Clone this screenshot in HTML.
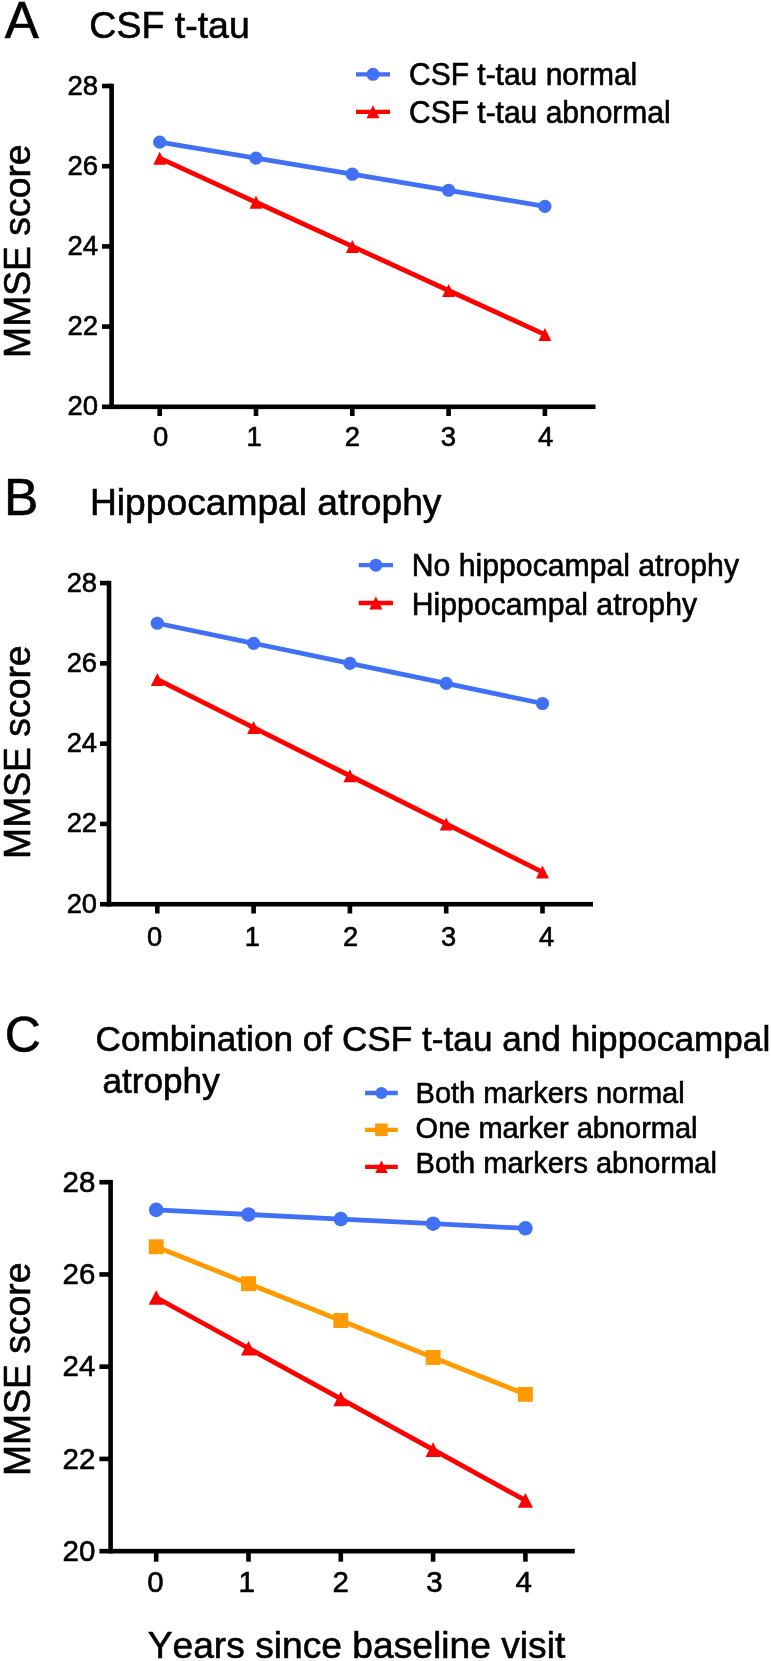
<!DOCTYPE html>
<html><head><meta charset="utf-8"><title>MMSE score trajectories</title>
<style>
html,body{margin:0;padding:0;background:#fff;}
body{width:771px;height:1661px;overflow:hidden;}
svg{display:block;will-change:transform;}
text{font-family:"Liberation Sans",sans-serif;font-kerning:none;fill:#000;stroke:#000;stroke-width:0.6px;}
</style></head>
<body>
<svg width="771" height="1661" viewBox="0 0 771 1661">
<rect width="771" height="1661" fill="#fff"/>
<text transform="translate(4.80,38.10) scale(1,1.0)" font-size="51" text-anchor="start" >A</text>
<text transform="translate(89.30,37.80) scale(1,1.0)" font-size="37.5" text-anchor="start" >CSF t-tau</text>
<text transform="translate(4.00,515.10) scale(1,1.0)" font-size="51.5" text-anchor="start" >B</text>
<text transform="translate(90.00,514.90) scale(1,1.0)" font-size="37.2" text-anchor="start" >Hippocampal atrophy</text>
<text transform="translate(4.80,1051.80) scale(1,1.0)" font-size="50" text-anchor="start" >C</text>
<text transform="translate(95.50,1051.40) scale(1,1.01)" font-size="35.2" text-anchor="start" >Combination of CSF t-tau and hippocampal</text>
<text transform="translate(102.40,1093.00) scale(1,1.01)" font-size="35.2" text-anchor="start" >atrophy</text>
<text transform="translate(147.70,1657.60) scale(1,1.0)" font-size="37.2" text-anchor="start" >Years since baseline visit</text>
<rect x="109.30" y="83.70" width="4.6" height="325.40" fill="#000"/>
<rect x="102.00" y="404.50" width="493.50" height="4.6" fill="#000"/>
<rect x="102.00" y="83.70" width="9.60" height="4.6" fill="#000"/>
<rect x="102.00" y="163.90" width="9.60" height="4.6" fill="#000"/>
<rect x="102.00" y="244.10" width="9.60" height="4.6" fill="#000"/>
<rect x="102.00" y="324.30" width="9.60" height="4.6" fill="#000"/>
<rect x="157.40" y="406.80" width="4.6" height="9.20" fill="#000"/>
<rect x="253.70" y="406.80" width="4.6" height="9.20" fill="#000"/>
<rect x="350.00" y="406.80" width="4.6" height="9.20" fill="#000"/>
<rect x="446.30" y="406.80" width="4.6" height="9.20" fill="#000"/>
<rect x="542.60" y="406.80" width="4.6" height="9.20" fill="#000"/>
<text transform="translate(98.00,94.50) scale(1,1.03)" font-size="27.5" text-anchor="end" >28</text>
<text transform="translate(98.00,174.70) scale(1,1.03)" font-size="27.5" text-anchor="end" >26</text>
<text transform="translate(98.00,254.90) scale(1,1.03)" font-size="27.5" text-anchor="end" >24</text>
<text transform="translate(98.00,335.10) scale(1,1.03)" font-size="27.5" text-anchor="end" >22</text>
<text transform="translate(98.00,415.30) scale(1,1.03)" font-size="27.5" text-anchor="end" >20</text>
<text transform="translate(160.60,446.40) scale(1,1.03)" font-size="27.5" text-anchor="middle" >0</text>
<text transform="translate(254.27,446.40) scale(1,1.03)" font-size="27.5" text-anchor="middle" >1</text>
<text transform="translate(352.40,446.40) scale(1,1.03)" font-size="27.5" text-anchor="middle" >2</text>
<text transform="translate(448.40,446.40) scale(1,1.03)" font-size="27.5" text-anchor="middle" >3</text>
<text transform="translate(545.70,446.40) scale(1,1.03)" font-size="27.5" text-anchor="middle" >4</text>
<polyline points="159.70,142.14 256.00,158.18 352.30,174.22 448.60,190.26 544.90,206.30" fill="none" stroke="#4071f5" stroke-width="4.8" stroke-linejoin="miter"/>
<circle cx="159.70" cy="142.14" r="6.6" fill="#4071f5"/>
<circle cx="256.00" cy="158.18" r="6.6" fill="#4071f5"/>
<circle cx="352.30" cy="174.22" r="6.6" fill="#4071f5"/>
<circle cx="448.60" cy="190.26" r="6.6" fill="#4071f5"/>
<circle cx="544.90" cy="206.30" r="6.6" fill="#4071f5"/>
<polyline points="159.70,158.18 256.00,202.29 352.30,246.40 448.60,290.51 544.90,334.62" fill="none" stroke="#ff0000" stroke-width="4.8" stroke-linejoin="miter"/>
<polygon points="159.70,151.68 166.15,164.68 153.25,164.68" fill="#ff0000"/>
<polygon points="256.00,195.79 262.45,208.79 249.55,208.79" fill="#ff0000"/>
<polygon points="352.30,239.90 358.75,252.90 345.85,252.90" fill="#ff0000"/>
<polygon points="448.60,284.01 455.05,297.01 442.15,297.01" fill="#ff0000"/>
<polygon points="544.90,328.12 551.35,341.12 538.45,341.12" fill="#ff0000"/>
<line x1="356.00" y1="74.35" x2="390.00" y2="74.35" stroke="#4071f5" stroke-width="4.3"/>
<circle cx="373.00" cy="74.35" r="6.5" fill="#4071f5"/>
<text transform="translate(409.00,85.20) scale(1,1.03)" font-size="30" text-anchor="start" >CSF t-tau normal</text>
<line x1="356.00" y1="111.80" x2="390.00" y2="111.80" stroke="#ff0000" stroke-width="4.3"/>
<polygon points="373.00,105.30 379.50,118.30 366.50,118.30" fill="#ff0000"/>
<text transform="translate(409.00,123.00) scale(1,1.03)" font-size="30" text-anchor="start" >CSF t-tau abnormal</text>
<text transform="translate(30.10,357.90) rotate(-90)" font-size="37.3">MMSE score</text>
<rect x="106.70" y="580.80" width="4.6" height="325.72" fill="#000"/>
<rect x="100.00" y="901.92" width="493.00" height="4.6" fill="#000"/>
<rect x="100.00" y="580.80" width="9.00" height="4.6" fill="#000"/>
<rect x="100.00" y="661.08" width="9.00" height="4.6" fill="#000"/>
<rect x="100.00" y="741.36" width="9.00" height="4.6" fill="#000"/>
<rect x="100.00" y="821.64" width="9.00" height="4.6" fill="#000"/>
<rect x="155.00" y="904.22" width="4.6" height="9.28" fill="#000"/>
<rect x="251.30" y="904.22" width="4.6" height="9.28" fill="#000"/>
<rect x="347.60" y="904.22" width="4.6" height="9.28" fill="#000"/>
<rect x="443.90" y="904.22" width="4.6" height="9.28" fill="#000"/>
<rect x="540.20" y="904.22" width="4.6" height="9.28" fill="#000"/>
<text transform="translate(97.00,591.60) scale(1,1.03)" font-size="27.3" text-anchor="end" >28</text>
<text transform="translate(97.00,671.88) scale(1,1.03)" font-size="27.3" text-anchor="end" >26</text>
<text transform="translate(97.00,752.16) scale(1,1.03)" font-size="27.3" text-anchor="end" >24</text>
<text transform="translate(97.00,832.44) scale(1,1.03)" font-size="27.3" text-anchor="end" >22</text>
<text transform="translate(97.00,912.72) scale(1,1.03)" font-size="27.3" text-anchor="end" >20</text>
<text transform="translate(154.70,945.60) scale(1,1.03)" font-size="27.3" text-anchor="middle" >0</text>
<text transform="translate(252.37,945.60) scale(1,1.03)" font-size="27.3" text-anchor="middle" >1</text>
<text transform="translate(350.70,945.60) scale(1,1.03)" font-size="27.3" text-anchor="middle" >2</text>
<text transform="translate(448.60,945.60) scale(1,1.03)" font-size="27.3" text-anchor="middle" >3</text>
<text transform="translate(546.50,945.60) scale(1,1.03)" font-size="27.3" text-anchor="middle" >4</text>
<polyline points="157.30,623.24 253.60,643.31 349.90,663.38 446.20,683.45 542.50,703.52" fill="none" stroke="#4071f5" stroke-width="4.8" stroke-linejoin="miter"/>
<circle cx="157.30" cy="623.24" r="6.6" fill="#4071f5"/>
<circle cx="253.60" cy="643.31" r="6.6" fill="#4071f5"/>
<circle cx="349.90" cy="663.38" r="6.6" fill="#4071f5"/>
<circle cx="446.20" cy="683.45" r="6.6" fill="#4071f5"/>
<circle cx="542.50" cy="703.52" r="6.6" fill="#4071f5"/>
<polyline points="157.30,679.44 253.60,727.60 349.90,775.77 446.20,823.94 542.50,872.11" fill="none" stroke="#ff0000" stroke-width="4.8" stroke-linejoin="miter"/>
<polygon points="157.30,672.94 163.75,685.94 150.85,685.94" fill="#ff0000"/>
<polygon points="253.60,721.10 260.05,734.10 247.15,734.10" fill="#ff0000"/>
<polygon points="349.90,769.27 356.35,782.27 343.45,782.27" fill="#ff0000"/>
<polygon points="446.20,817.44 452.65,830.44 439.75,830.44" fill="#ff0000"/>
<polygon points="542.50,865.61 548.95,878.61 536.05,878.61" fill="#ff0000"/>
<line x1="358.70" y1="565.20" x2="393.00" y2="565.20" stroke="#4071f5" stroke-width="4.3"/>
<circle cx="375.85" cy="565.20" r="6.5" fill="#4071f5"/>
<text transform="translate(411.80,576.30) scale(1,1.03)" font-size="30.2" text-anchor="start" >No hippocampal atrophy</text>
<line x1="358.70" y1="603.00" x2="393.00" y2="603.00" stroke="#ff0000" stroke-width="4.3"/>
<polygon points="375.85,596.40 382.40,609.60 369.30,609.60" fill="#ff0000"/>
<text transform="translate(411.80,614.90) scale(1,1.03)" font-size="30.2" text-anchor="start" >Hippocampal atrophy</text>
<text transform="translate(30.10,858.90) rotate(-90)" font-size="37.3">MMSE score</text>
<rect x="108.30" y="1179.90" width="4.6" height="373.56" fill="#000"/>
<rect x="99.40" y="1548.86" width="475.40" height="4.6" fill="#000"/>
<rect x="99.40" y="1179.90" width="11.20" height="4.6" fill="#000"/>
<rect x="99.40" y="1272.14" width="11.20" height="4.6" fill="#000"/>
<rect x="99.40" y="1364.38" width="11.20" height="4.6" fill="#000"/>
<rect x="99.40" y="1456.62" width="11.20" height="4.6" fill="#000"/>
<rect x="153.90" y="1551.16" width="4.6" height="10.54" fill="#000"/>
<rect x="246.20" y="1551.16" width="4.6" height="10.54" fill="#000"/>
<rect x="338.50" y="1551.16" width="4.6" height="10.54" fill="#000"/>
<rect x="430.80" y="1551.16" width="4.6" height="10.54" fill="#000"/>
<rect x="523.10" y="1551.16" width="4.6" height="10.54" fill="#000"/>
<text transform="translate(95.30,1191.80) scale(1,1.03)" font-size="29.5" text-anchor="end" >28</text>
<text transform="translate(95.30,1284.04) scale(1,1.03)" font-size="29.5" text-anchor="end" >26</text>
<text transform="translate(95.30,1376.28) scale(1,1.03)" font-size="29.5" text-anchor="end" >24</text>
<text transform="translate(95.30,1468.52) scale(1,1.03)" font-size="29.5" text-anchor="end" >22</text>
<text transform="translate(95.30,1560.76) scale(1,1.03)" font-size="29.5" text-anchor="end" >20</text>
<text transform="translate(155.40,1592.40) scale(1,1.03)" font-size="29.5" text-anchor="middle" >0</text>
<text transform="translate(246.65,1592.40) scale(1,1.03)" font-size="29.5" text-anchor="middle" >1</text>
<text transform="translate(340.60,1592.40) scale(1,1.03)" font-size="29.5" text-anchor="middle" >2</text>
<text transform="translate(434.40,1592.40) scale(1,1.03)" font-size="29.5" text-anchor="middle" >3</text>
<text transform="translate(523.60,1592.40) scale(1,1.03)" font-size="29.5" text-anchor="middle" >4</text>
<polyline points="156.20,1209.87 248.50,1214.48 340.80,1219.10 433.10,1223.71 525.40,1228.32" fill="none" stroke="#4071f5" stroke-width="4.8" stroke-linejoin="miter"/>
<circle cx="156.20" cy="1209.87" r="7.3" fill="#4071f5"/>
<circle cx="248.50" cy="1214.48" r="7.3" fill="#4071f5"/>
<circle cx="340.80" cy="1219.10" r="7.3" fill="#4071f5"/>
<circle cx="433.10" cy="1223.71" r="7.3" fill="#4071f5"/>
<circle cx="525.40" cy="1228.32" r="7.3" fill="#4071f5"/>
<polyline points="156.20,1246.77 248.50,1283.66 340.80,1320.56 433.10,1357.46 525.40,1394.35" fill="none" stroke="#ff9b00" stroke-width="4.8" stroke-linejoin="miter"/>
<rect x="148.75" y="1239.32" width="14.9" height="14.9" fill="#ff9b00"/>
<rect x="241.05" y="1276.21" width="14.9" height="14.9" fill="#ff9b00"/>
<rect x="333.35" y="1313.11" width="14.9" height="14.9" fill="#ff9b00"/>
<rect x="425.65" y="1350.01" width="14.9" height="14.9" fill="#ff9b00"/>
<rect x="517.95" y="1386.90" width="14.9" height="14.9" fill="#ff9b00"/>
<polyline points="156.20,1297.50 248.50,1348.23 340.80,1398.96 433.10,1449.70 525.40,1500.43" fill="none" stroke="#ff0000" stroke-width="4.8" stroke-linejoin="miter"/>
<polygon points="156.20,1290.15 163.75,1304.85 148.65,1304.85" fill="#ff0000"/>
<polygon points="248.50,1340.88 256.05,1355.58 240.95,1355.58" fill="#ff0000"/>
<polygon points="340.80,1391.61 348.35,1406.31 333.25,1406.31" fill="#ff0000"/>
<polygon points="433.10,1442.35 440.65,1457.05 425.55,1457.05" fill="#ff0000"/>
<polygon points="525.40,1493.08 532.95,1507.78 517.85,1507.78" fill="#ff0000"/>
<line x1="365.10" y1="1093.00" x2="397.80" y2="1093.00" stroke="#4071f5" stroke-width="4.3"/>
<circle cx="381.45" cy="1093.00" r="6.1" fill="#4071f5"/>
<text transform="translate(415.60,1103.00) scale(1,1.03)" font-size="29" text-anchor="start" >Both markers normal</text>
<line x1="365.10" y1="1129.80" x2="397.80" y2="1129.80" stroke="#ff9b00" stroke-width="4.3"/>
<rect x="375.15" y="1123.50" width="12.6" height="12.6" fill="#ff9b00"/>
<text transform="translate(415.60,1137.70) scale(1,1.03)" font-size="29" text-anchor="start" >One marker abnormal</text>
<line x1="365.10" y1="1166.80" x2="397.80" y2="1166.80" stroke="#ff0000" stroke-width="4.3"/>
<polygon points="381.45,1160.60 387.70,1173.00 375.20,1173.00" fill="#ff0000"/>
<text transform="translate(415.60,1172.60) scale(1,1.03)" font-size="29" text-anchor="start" >Both markers abnormal</text>
<text transform="translate(30.10,1476.00) rotate(-90)" font-size="37.3">MMSE score</text>
</svg>
</body></html>
